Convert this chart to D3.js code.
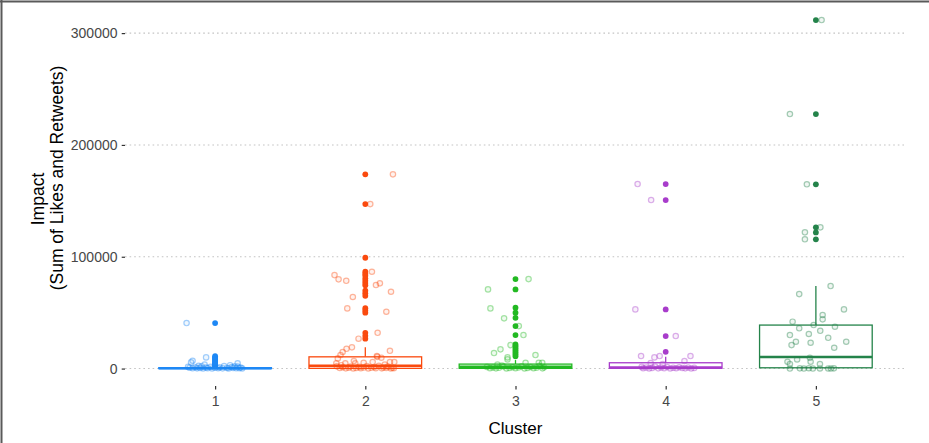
<!DOCTYPE html>
<html>
<head>
<meta charset="utf-8">
<script src="https://cdn.jsdelivr.net/npm/d3@7"></script>
<style>
    body { margin: 0; background: #fff; }
    svg text { font-family: "Liberation Sans", Arial, sans-serif; }
</style>
</head>
<body>
<svg id="chart" width="929" height="443"></svg>
<script>
// categories and tick labels
const clusters = ["1", "2", "3", "4", "5"];
const yTicks = [0, 100000, 200000, 300000];

// box statistics per cluster
const boxLow = [0, 0, 0, 0, 0];
const boxQ1 = [0, 200, 200, 200, 700];
const boxMedian = [300, 2500, 1600, 1100, 10300];
const boxQ3 = [800, 10500, 4000, 5200, 38900];
const boxHigh = [1800, 19000, 7600, 10500, 73800];

// boxplot outliers (drawn solid on the centre line)
const outliers1 = [40700, 11000, 10000, 9000, 8000, 7000, 6000, 5000, 4500, 4000, 3500, 3000, 2500];
const outliers2 = [173700, 147100, 99100, 86600, 84800, 83000, 80500, 78500, 76500, 74500,
    69600, 67300, 65100, 54000, 52000, 50000, 32000, 29300, 26700];
const outliers3 = [80000, 70800, 54400, 49900, 45400, 38000, 30000, 21600, 20000, 18200,
    16400, 14600, 12800, 11000];
const outliers4 = [165000, 150700, 52900, 29100, 15000];
const outliers5 = [311700, 227600, 164800, 126300, 121800, 115600];

// jittered observations: [impact, horizontal jitter in cluster units]
const points1 = [[40700, -0.19], [10000, -0.06], [7000, -0.15], [5500, -0.16], [4700, 0.15],
    [1500, -0.18], [800, -0.17], [300, -0.15], [1200, -0.13], [200, -0.12], [600, -0.10],
    [2000, -0.09], [100, -0.08], [900, -0.06], [400, -0.05], [1600, -0.03], [50, -0.02],
    [700, 0.00], [300, 0.02], [1100, 0.03], [200, 0.05], [2300, 0.06], [500, 0.08],
    [100, 0.09], [1300, 0.11], [600, 0.12], [250, 0.14], [1800, 0.15], [400, 0.16],
    [900, 0.17], [150, 0.18], [2500, -0.11], [3000, 0.10], [2000, 0.13], [3500, -0.07]];
const points2 = [[173700, 0.184], [147100, 0.033], [86600, 0.044], [83600, -0.205],
    [79800, -0.178], [78500, -0.127], [74700, 0.071], [76200, 0.097], [68700, 0.171],
    [64000, -0.083], [53800, -0.12], [50800, 0.14], [32000, 0.082], [26700, -0.045],
    [19000, -0.089], [17700, -0.125], [14800, -0.151], [12100, -0.165], [15900, 0.164],
    [11200, 0.077], [10500, 0.08], [9700, 0.107], [9100, -0.183], [6700, -0.076],
    [5200, -0.011], [5800, 0.049], [5800, 0.164], [5800, 0.193], [4700, -0.133],
    [4700, -0.193], [4700, -0.067], [2000, -0.19], [500, -0.17], [1200, -0.15], [200, -0.13],
    [800, -0.11], [1800, -0.10], [100, -0.08], [600, -0.06], [1500, -0.04], [300, -0.03],
    [900, -0.01], [2200, 0.01], [100, 0.02], [700, 0.04], [1300, 0.06], [400, 0.07],
    [2500, 0.09], [200, 0.11], [1000, 0.12], [600, 0.14], [1700, 0.15], [100, 0.17],
    [800, 0.18], [300, 0.19], [3000, -0.16], [3500, 0.13]];
const points3 = [[80000, 0.087], [70800, -0.183], [53800, -0.167], [44900, -0.076],
    [38000, 0.022], [30000, 0.053], [21000, -0.033], [17200, -0.1], [13900, -0.143],
    [10000, -0.053], [8200, -0.053], [12100, 0.133], [5200, 0.067], [5200, 0.155],
    [5200, 0.178], [3500, -0.12], [2800, -0.09], [1500, -0.19], [400, -0.17], [1000, -0.15],
    [200, -0.13], [700, -0.11], [1800, -0.08], [100, -0.06], [500, -0.04], [1200, -0.02],
    [300, 0.00], [900, 0.02], [2000, 0.04], [100, 0.06], [600, 0.08], [1400, 0.10],
    [300, 0.12], [800, 0.14], [2400, 0.16], [200, 0.18], [1100, 0.19]];
const points4 = [[165000, -0.187], [150700, -0.097], [52900, -0.202], [29100, 0.067],
    [11200, -0.164], [10000, -0.075], [11200, -0.04], [11200, 0.165], [6700, 0.125],
    [5000, -0.10], [4000, -0.02], [1500, -0.16], [300, -0.15], [900, -0.13], [100, -0.11],
    [600, -0.09], [1800, -0.07], [200, -0.05], [1000, -0.03], [400, -0.01], [1400, 0.01],
    [100, 0.03], [700, 0.05], [300, 0.07], [1200, 0.09], [500, 0.11], [200, 0.13],
    [900, 0.15], [100, 0.17], [600, 0.19]];
const points5 = [[311700, 0.038], [227600, -0.173], [164800, -0.06], [126300, 0.03],
    [121800, -0.073], [115600, -0.073], [73800, 0.098], [66600, -0.111], [52900, 0.187],
    [47900, 0.045], [44000, 0.045], [41900, -0.155], [38900, -0.015], [37400, 0.127],
    [36000, -0.111], [33800, 0.029], [30000, -0.173], [30900, -0.047], [27500, 0.082],
    [24000, -0.133], [21000, -0.162], [23100, -0.035], [24000, 0.202], [18600, 0.122],
    [8200, -0.125], [9700, -0.04], [6100, -0.035], [4000, 0.027], [6100, -0.189],
    [4000, -0.173], [0, -0.173], [200, -0.107], [0, -0.08], [300, -0.047], [0, -0.02],
    [100, 0.027], [0, 0.082], [0, 0.10], [200, 0.12]];

const clusterColors = ["#1e88f5", "#fa4a0e", "#22b922", "#a83ccb", "#24834a"];

const outlierSets = [outliers1, outliers2, outliers3, outliers4, outliers5];
const pointSets = [points1, points2, points3, points4, points5];

const svg = d3.select("#chart");

// frame of the screenshot
svg.append("line").attr("x1", 0).attr("x2", 929).attr("y1", 1.5).attr("y2", 1.5)
    .attr("stroke", "#5a5a5a").attr("stroke-width", 2);
svg.append("line").attr("x1", 1.5).attr("x2", 1.5).attr("y1", 0).attr("y2", 443)
    .attr("stroke", "#5a5a5a").attr("stroke-width", 2);

// scales (ggplot style expansion)
const x = d3.scaleLinear().domain([0.4, 5.6]).range([125, 906]);
const y = d3.scaleLinear().domain([-15585, 327285]).range([386, 2.6]);

// dotted gridlines
svg.append("g")
    .selectAll("line")
    .data(yTicks)
    .join("line")
    .attr("x1", x(0.4)).attr("x2", x(5.6))
    .attr("y1", d => y(d)).attr("y2", d => y(d))
    .attr("stroke", "#c4c4c4")
    .attr("stroke-dasharray", "1.6,3")
    .attr("stroke-width", 1.1);

// axes
const yAxis = svg.append("g")
    .attr("transform", `translate(${x(0.4)},0)`)
    .call(d3.axisLeft(y).tickValues(yTicks).tickSize(3.3).tickPadding(4.2).tickFormat(d3.format("d")));
const xAxis = svg.append("g")
    .attr("transform", `translate(0,${y.range()[0]})`)
    .call(d3.axisBottom(x).tickValues([1, 2, 3, 4, 5]).tickSize(3.5).tickPadding(7)
        .tickFormat(d => clusters[d - 1]));
[yAxis, xAxis].forEach(a => {
    a.select(".domain").remove();
    a.selectAll(".tick line").attr("stroke", "#333").attr("stroke-width", 1.2);
    a.selectAll(".tick text").attr("fill", "#474747").style("font-size", "14px");
});

// boxplots
const boxes = svg.append("g");
clusters.forEach((c, i) => {
    const cx = i + 1;
    const col = clusterColors[i];
    const g = boxes.append("g").attr("stroke", col).attr("fill", "none");
    g.append("line").attr("x1", x(cx)).attr("x2", x(cx))
        .attr("y1", y(boxQ3[i])).attr("y2", y(boxHigh[i])).attr("stroke-width", 1.3);
    g.append("line").attr("x1", x(cx)).attr("x2", x(cx))
        .attr("y1", y(boxQ1[i])).attr("y2", y(boxLow[i])).attr("stroke-width", 1.3);
    g.append("rect")
        .attr("x", x(cx - 0.375))
        .attr("width", x(cx + 0.375) - x(cx - 0.375))
        .attr("y", y(boxQ3[i]))
        .attr("height", Math.max(0, y(boxQ1[i]) - y(boxQ3[i])))
        .attr("fill", "#fff")
        .attr("stroke-width", 1.3);
    g.append("line").attr("x1", x(cx - 0.375)).attr("x2", x(cx + 0.375))
        .attr("y1", y(boxMedian[i])).attr("y2", y(boxMedian[i])).attr("stroke-width", 2.4);

    // outliers
    svg.append("g").selectAll("circle")
        .data(outlierSets[i])
        .join("circle")
        .attr("cx", x(cx))
        .attr("cy", d => y(d))
        .attr("r", 2.9)
        .attr("fill", col);
});

// jittered points
clusters.forEach((c, i) => {
    const col = clusterColors[i];
    svg.append("g").selectAll("circle")
        .data(pointSets[i])
        .join("circle")
        .attr("cx", d => x(i + 1 + d[1]))
        .attr("cy", d => y(d[0]))
        .attr("r", 2.7)
        .attr("fill", col)
        .attr("fill-opacity", 0.07)
        .attr("stroke", col)
        .attr("stroke-opacity", 0.4)
        .attr("stroke-width", 1.2);
});

// axis titles
svg.append("text")
    .attr("x", (x(0.4) + x(5.6)) / 2)
    .attr("y", 434)
    .attr("text-anchor", "middle")
    .attr("fill", "#000")
    .style("font-size", "17px")
    .text("Cluster");
svg.append("text")
    .attr("transform", "translate(44,199) rotate(-90)")
    .attr("text-anchor", "middle")
    .attr("fill", "#000")
    .style("font-size", "17.5px")
    .text("Impact");
svg.append("text")
    .attr("transform", "translate(63,178) rotate(-90)")
    .attr("text-anchor", "middle")
    .attr("fill", "#000")
    .style("font-size", "17.5px")
    .text("(Sum of Likes and Retweets)");
</script>
</body>
</html>
